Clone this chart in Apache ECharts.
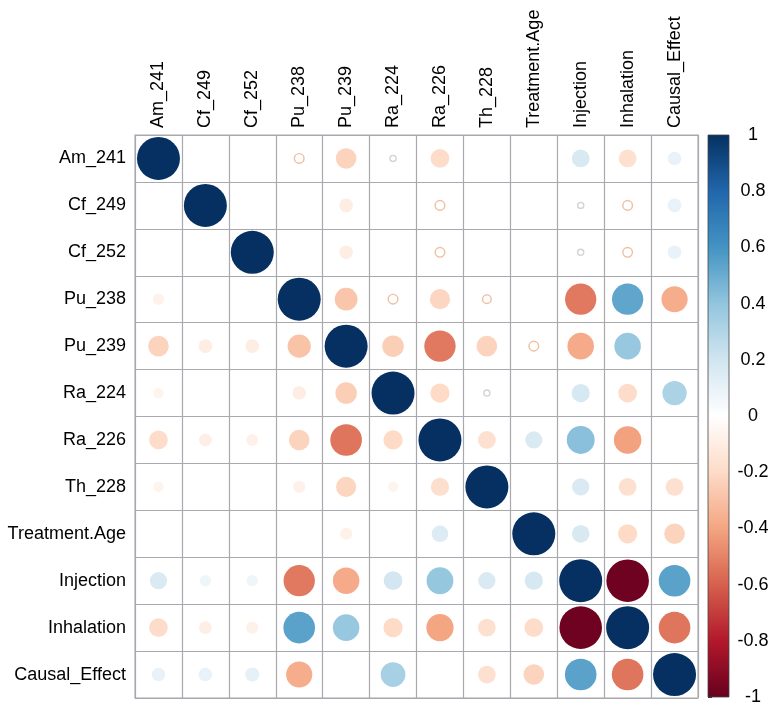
<!DOCTYPE html>
<html><head><meta charset="utf-8">
<script src="https://cdn.jsdelivr.net/npm/echarts@6/dist/echarts.min.js"></script>
<style>html,body{margin:0;padding:0;background:#fff}#c{width:774px;height:714px}</style>
</head><body><div id="c"></div>
<script>
var variables = ["Am_241","Cf_249","Cf_252","Pu_238","Pu_239","Ra_224","Ra_226","Th_228","Treatment.Age","Injection","Inhalation","Causal_Effect"];
var rowAm241   = [1, 0, 0, -0.05, -0.23, -0.02, -0.19, 0, 0, 0.17, -0.17, 0.10];
var rowCf249   = [0, 1, 0, 0, -0.10, 0, -0.05, 0, 0, 0.02, -0.05, 0.10];
var rowCf252   = [0, 0, 1, 0, -0.10, 0, -0.05, 0, 0, 0.02, -0.05, 0.10];
var rowPu238   = [-0.07, 0, 0, 1, -0.28, -0.05, -0.22, -0.04, 0, -0.53, 0.53, -0.37];
var rowPu239   = [-0.23, -0.10, -0.10, -0.29, 1, -0.25, -0.53, -0.23, -0.05, -0.38, 0.38, 0];
var rowRa224   = [-0.06, 0, 0, -0.10, -0.25, 1, -0.20, -0.02, 0, 0.18, -0.19, 0.32];
var rowRa226   = [-0.19, -0.09, -0.08, -0.23, -0.54, -0.20, 1, -0.17, 0.16, 0.42, -0.41, 0];
var rowTh228   = [-0.06, 0, 0, -0.08, -0.22, -0.06, -0.18, 1, 0, 0.16, -0.17, -0.17];
var rowTreatAge= [0, 0, 0, 0, -0.08, 0, 0.15, 0, 1, 0.17, -0.20, -0.23];
var rowInject  = [0.16, 0.07, 0.07, -0.53, -0.38, 0.19, 0.39, 0.16, 0.18, 1, -0.98, 0.54];
var rowInhal   = [-0.19, -0.09, -0.08, 0.54, 0.38, -0.20, -0.40, -0.17, -0.19, -0.98, 1, -0.54];
var rowCausal  = [0.10, 0.10, 0.11, -0.37, 0, 0.33, 0, -0.17, -0.23, 0.54, -0.54, 1];
var matrix = [rowAm241,rowCf249,rowCf252,rowPu238,rowPu239,rowRa224,rowRa226,rowTh228,rowTreatAge,rowInject,rowInhal,rowCausal];
var colorbarTicks = [-1,-0.8,-0.6,-0.4,-0.2,0,0.2,0.4,0.6,0.8,1];

var palette = ["#67001F","#B2182B","#D6604D","#F4A582","#FDDBC7","#FFFFFF","#D1E5F0","#92C5DE","#4393C3","#2166AC","#053061"];
function hex2rgb(h){return [parseInt(h.substr(1,2),16),parseInt(h.substr(3,2),16),parseInt(h.substr(5,2),16)];}
function colorOf(v){
  var t=(v+1)/2*(palette.length-1);
  var i=Math.min(Math.floor(t),palette.length-2), f=t-i;
  var a=hex2rgb(palette[i]), b=hex2rgb(palette[i+1]);
  var c=a.map(function(x,k){return Math.round(x+(b[k]-x)*f);});
  return 'rgb('+c.join(',')+')';
}
var MAXD = 43;
var data=[];
matrix.forEach(function(row,ri){
  row.forEach(function(v,ci){
    if(v===0) return;
    var item={value:[ci,ri,v]};
    if(Math.abs(v)<=0.05){
      var ring = Math.abs(v)<=0.03 ? '#d4d4d8' : '#efbf9f';
      item.itemStyle={color:'#ffffff',borderColor:ring,borderWidth:1.4,opacity:1};
    } else {
      item.itemStyle={color:colorOf(v),opacity:1};
    }
    data.push(item);
  });
});

var gradStops = palette.slice().reverse().map(function(c,i){return {offset:i/(palette.length-1),color:c};});

var chart=echarts.init(document.getElementById('c'),null,{renderer:'canvas'});
var FONT='Liberation Sans, Arial, sans-serif';
chart.setOption({
  animation:false,
  backgroundColor:'#fff',
  grid:[
    {left:135,top:135,width:563,height:563,show:true,borderColor:'#c4c4c8',borderWidth:1.5,backgroundColor:'transparent'},
    {left:708,top:135,width:21,height:562,show:false}
  ],
  xAxis:[
    {type:'category',gridIndex:0,data:variables,position:'top',boundaryGap:true,
     axisLine:{show:false},axisTick:{show:false},
     splitLine:{show:true,lineStyle:{color:'#a8a8ae',width:1.2}},
     axisLabel:{rotate:-90,margin:7,color:'#000',fontSize:18,fontFamily:FONT,interval:0}},
    {type:'value',gridIndex:1,show:false,min:0,max:1}
  ],
  yAxis:[
    {type:'category',gridIndex:0,data:variables,inverse:true,boundaryGap:true,
     axisLine:{show:false},axisTick:{show:false},
     splitLine:{show:true,lineStyle:{color:'#a8a8ae',width:1.2}},
     axisLabel:{margin:9,color:'#000',fontSize:18,fontFamily:FONT,interval:0}},
    {type:'value',gridIndex:1,position:'right',min:-1,max:1,interval:0.2,
     axisLine:{show:false},splitLine:{show:false},
     axisTick:{show:true,inside:false,length:4,lineStyle:{color:'#333'}},
     axisLabel:{margin:24,align:'center',color:'#000',fontSize:18,fontFamily:FONT,
       formatter:function(v){var r=Math.round(v*10)/10;return String(r);}}}
  ],
  series:[
    {type:'scatter',xAxisIndex:0,yAxisIndex:0,data:data,
     symbol:'circle',itemStyle:{opacity:1},
     symbolSize:function(val){return MAXD*Math.sqrt(Math.abs(val[2]));},
     z:3},
    {type:'custom',xAxisIndex:1,yAxisIndex:1,data:[[0,1,-1]],
     renderItem:function(params,api){
       var p0=api.coord([0,1]), p1=api.coord([1,-1]);
       return {type:'rect',shape:{x:p0[0],y:p0[1],width:p1[0]-p0[0],height:p1[1]-p0[1]},
         style:{fill:new echarts.graphic.LinearGradient(0,0,0,1,gradStops),stroke:'#444',lineWidth:0.8}};
     }}
  ]
});
</script></body></html>
